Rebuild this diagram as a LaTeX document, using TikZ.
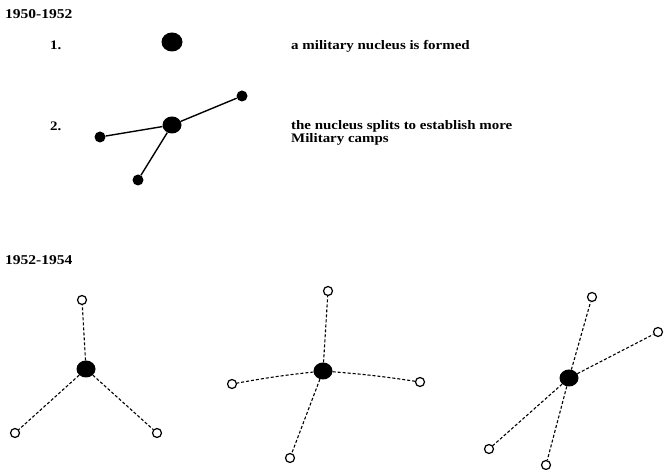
\documentclass[tikz,border=0pt]{standalone}
\usepackage{fontspec}
\setmainfont[FakeStretch=1.15]{Liberation Serif}
\usetikzlibrary{shapes.geometric}
\begin{document}
\begin{tikzpicture}[x=1pt,y=-1pt,
  txt/.style={anchor=base west,inner sep=0pt,font=\bfseries\fontsize{13}{14}\selectfont},
  yr/.style={anchor=base west,inner sep=0pt,font=\bfseries\fontsize{13.5}{15}\selectfont},
  big/.style={ellipse,fill=black,inner sep=0pt,minimum width=21pt,minimum height=19pt},
  mid/.style={ellipse,fill=black,inner sep=0pt,minimum width=19pt,minimum height=17pt},
  small/.style={circle,fill=black,inner sep=0pt,minimum size=11pt},
  open/.style={circle,draw=black,line width=1.2pt,fill=white,inner sep=0pt,minimum size=9pt},
  solid link/.style={line width=1.4pt},
  dash link/.style={line width=1.1pt,dash pattern=on 3pt off 2pt}]
\useasboundingbox (0,0) rectangle (665,470);
% top section
\node[yr] (y1) at (5,19) {1950-1952};
\node[txt] (n1) at (50,50) {1.};
\node[big] (c1) at (172,42) {};
\node[txt] (t1) at (291,50) {a military nucleus is formed};
\node[txt] (n2) at (50,131) {2.};
\node[mid] (c2) at (172,125) {};
\node[small] (s1) at (100,137) {};
\node[small] (s2) at (242,96) {};
\node[small] (s3) at (138,180) {};
\draw[solid link] (c2) -- (s1);
\draw[solid link] (c2) -- (s2);
\draw[solid link] (c2) -- (s3);
\node[txt] (t2) at (291,130) {the nucleus splits to establish more};
\node[txt] (t3) at (291,143) {Military camps};
% bottom section
\node[yr] (y2) at (5,265) {1952-1954};
% group A
\node[mid] (a0) at (86,369) {};
\node[open] (a1) at (82,300) {};
\node[open] (a2) at (15,433) {};
\node[open] (a3) at (157,433) {};
\draw[dash link] (a0) -- (a1);
\draw[dash link] (a0) -- (a2);
\draw[dash link] (a0) -- (a3);
% group B
\node[mid] (b0) at (323,371) {};
\node[open] (b1) at (328,291) {};
\node[open] (b2) at (232,384) {};
\node[open] (b3) at (420,382) {};
\node[open] (b4) at (290,458) {};
\draw[dash link] (b0) -- (b1);
\draw[dash link] (b0) to[bend right=2] (b2);
\draw[dash link] (b0) to[bend left=2] (b3);
\draw[dash link] (b0) -- (b4);
% group C
\node[mid] (d0) at (569,378) {};
\node[open] (d1) at (592,297) {};
\node[open] (d2) at (658,332) {};
\node[open] (d3) at (489,449) {};
\node[open] (d4) at (546,465) {};
\draw[dash link] (d0) -- (d1);
\draw[dash link] (d0) -- (d2);
\draw[dash link] (d0) -- (d3);
\draw[dash link] (d0) -- (d4);
\end{tikzpicture}
\end{document}
